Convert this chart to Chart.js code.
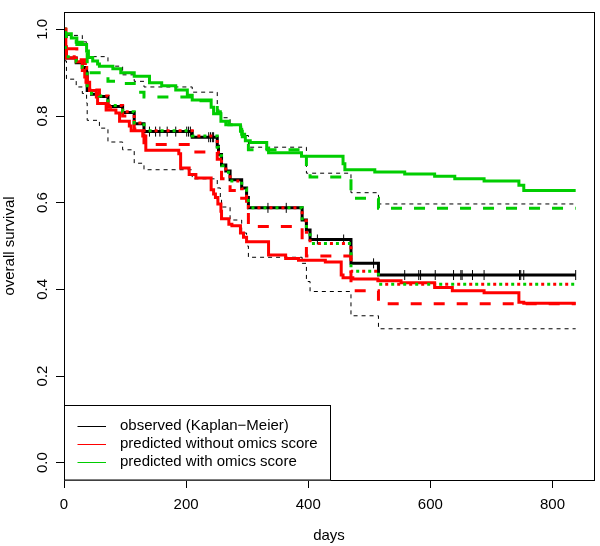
<!DOCTYPE html>
<html>
<head>
<meta charset="utf-8">
<script src="https://cdn.jsdelivr.net/npm/chart.js@4/dist/chart.umd.min.js"></script>
<style>
  body { margin: 0; background: #fff; }
  canvas { display: block; }
</style>
</head>
<body>
<canvas id="grafico_km" width="600" height="546"></canvas>
<script>
// tick labels
const xTicks = [0, 200, 400, 600, 800];
const yTicks = [0, 0.2, 0.4, 0.6, 0.8, 1.0];
const seriesNames = ['observed (Kaplan\u2212Meier)', 'predicted without omics score', 'predicted with omics score'];

// observed Kaplan-Meier (step values start at the given day)
const kmDays = [0, 2, 4, 20, 30, 37, 38, 45, 58, 72, 96, 115, 131, 210, 251, 253, 258, 265, 272, 291, 299, 302, 390, 397, 403, 470, 515, 838];
const kmSurv = [1.0, 0.945, 0.934, 0.923, 0.912, 0.900, 0.859, 0.850, 0.845, 0.822, 0.808, 0.782, 0.764, 0.751, 0.730, 0.711, 0.687, 0.673, 0.653, 0.634, 0.612, 0.588, 0.560, 0.537, 0.515, 0.460, 0.433, 0.433];

// censoring marks
const censorDays = [140, 150, 157, 169, 183, 201, 204, 207, 237, 240, 243, 245, 334, 364, 415, 458, 507, 558, 581, 584, 608, 638, 650, 652, 669, 688, 746, 748, 753, 838];
const censorSurv = [0.764, 0.764, 0.764, 0.764, 0.764, 0.764, 0.764, 0.764, 0.751, 0.751, 0.751, 0.751, 0.588, 0.588, 0.515, 0.515, 0.460, 0.433, 0.433, 0.433, 0.433, 0.433, 0.433, 0.433, 0.433, 0.433, 0.433, 0.433, 0.433, 0.433];

// confidence band
const upperDays = [0, 4, 30, 37, 72, 96, 115, 131, 210, 251, 258, 272, 291, 302, 397, 470, 515, 838];
const upperSurv = [1.0, 0.986, 0.971, 0.937, 0.915, 0.895, 0.880, 0.867, 0.855, 0.814, 0.796, 0.778, 0.755, 0.728, 0.668, 0.623, 0.597, 0.597];
const lowerDays = [0, 2, 4, 20, 30, 37, 38, 58, 72, 96, 115, 131, 210, 251, 256, 258, 272, 291, 299, 302, 390, 397, 403, 470, 515, 838];
const lowerSurv = [1.0, 0.927, 0.885, 0.867, 0.852, 0.830, 0.790, 0.772, 0.740, 0.722, 0.691, 0.676, 0.655, 0.634, 0.612, 0.590, 0.560, 0.530, 0.500, 0.474, 0.460, 0.418, 0.395, 0.339, 0.309, 0.309];

// predicted without omics score
const redDays = [0, 3, 4, 20, 30, 34, 36, 42, 53, 55, 69, 85, 91, 107, 110, 129, 134, 188, 191, 205, 216, 241, 245, 248, 252, 257, 258, 270, 275, 289, 294, 299, 335, 363, 384, 428, 454, 457, 473, 514, 552, 607, 636, 688, 745, 753, 838];
const redSurv = [1.0, 0.96, 0.934, 0.925, 0.905, 0.89, 0.878, 0.859, 0.844, 0.829, 0.814, 0.807, 0.788, 0.777, 0.766, 0.754, 0.721, 0.713, 0.680, 0.665, 0.657, 0.63, 0.62, 0.612, 0.597, 0.58, 0.563, 0.55, 0.547, 0.53, 0.52, 0.51, 0.479, 0.471, 0.467, 0.463, 0.433, 0.427, 0.424, 0.42, 0.415, 0.404, 0.397, 0.392, 0.37, 0.368, 0.368];
const redDashDays = [0, 3, 21, 35, 38, 58, 72, 96, 115, 131, 210, 251, 256, 258, 272, 291, 299, 302, 390, 397, 470, 515, 838];
const redDashSurv = [1.0, 0.955, 0.93, 0.90, 0.86, 0.845, 0.82, 0.80, 0.77, 0.734, 0.717, 0.70, 0.686, 0.655, 0.628, 0.61, 0.59, 0.545, 0.515, 0.477, 0.397, 0.367, 0.367];
const redDotDays = [0, 2, 4, 20, 30, 37, 38, 45, 58, 72, 96, 115, 131, 210, 251, 253, 258, 265, 272, 291, 299, 302, 390, 397, 403, 470, 515, 838];
const redDotSurv = [1.0, 0.948, 0.937, 0.925, 0.912, 0.902, 0.862, 0.852, 0.846, 0.824, 0.81, 0.784, 0.766, 0.754, 0.728, 0.708, 0.685, 0.67, 0.65, 0.632, 0.61, 0.588, 0.558, 0.532, 0.506, 0.442, 0.412, 0.412];

// predicted with omics score
const greenDays = [0, 2, 12, 21, 37, 40, 47, 55, 58, 80, 93, 115, 140, 160, 183, 202, 210, 241, 245, 257, 270, 289, 292, 297, 305, 332, 335, 389, 457, 460, 509, 558, 607, 640, 688, 745, 753, 838];
const greenSurv = [1.0, 0.99, 0.98, 0.965, 0.95, 0.935, 0.927, 0.92, 0.915, 0.909, 0.90, 0.892, 0.877, 0.870, 0.86, 0.848, 0.837, 0.82, 0.805, 0.788, 0.78, 0.765, 0.752, 0.743, 0.739, 0.725, 0.715, 0.707, 0.69, 0.676, 0.671, 0.666, 0.661, 0.655, 0.65, 0.64, 0.628, 0.628];
const greenDashDays = [0, 2, 4, 20, 30, 37, 38, 72, 96, 115, 131, 210, 251, 256, 265, 291, 299, 302, 397, 403, 470, 515, 838];
const greenDashSurv = [1.0, 0.988, 0.98, 0.97, 0.96, 0.95, 0.90, 0.88, 0.875, 0.855, 0.844, 0.835, 0.81, 0.79, 0.78, 0.758, 0.74, 0.722, 0.68, 0.659, 0.61, 0.587, 0.587];
const greenDotDays = [0, 2, 4, 20, 30, 37, 38, 45, 58, 72, 96, 115, 131, 210, 251, 253, 258, 265, 272, 291, 299, 302, 390, 397, 403, 470, 515, 838];
const greenDotSurv = [1.0, 0.948, 0.937, 0.925, 0.912, 0.902, 0.862, 0.852, 0.846, 0.824, 0.81, 0.784, 0.766, 0.754, 0.728, 0.708, 0.685, 0.67, 0.65, 0.632, 0.61, 0.588, 0.558, 0.532, 0.506, 0.442, 0.412, 0.412];

const FONT = "'Liberation Sans', Arial, Helvetica, sans-serif";
const RED = '#ff0000';
const GREEN = '#00cd00';
const seriesColors = ['#000000', RED, GREEN];

function pts(days, surv) {
  return days.map((d, i) => ({ x: d, y: surv[i] }));
}

function curve(days, surv, color, width, dash, dashOffset) {
  return {
    data: pts(days, surv),
    borderColor: color,
    borderWidth: width,
    borderDash: dash || [],
    borderDashOffset: dashOffset || 0,
    stepped: 'before',
    pointRadius: 0,
    fill: false
  };
}

// R style box, rotated y labels and legend
const rStyle = {
  id: 'rStyle',
  afterDraw(chart) {
    const { ctx, chartArea: a, scales } = chart;
    ctx.save();
    ctx.strokeStyle = '#000';
    ctx.lineWidth = 1;
    ctx.strokeRect(a.left + 0.5, a.top + 0.5, a.right - a.left, a.bottom - a.top);

    ctx.fillStyle = '#000';
    ctx.font = '15px ' + FONT;
    ctx.textAlign = 'center';
    ctx.textBaseline = 'alphabetic';
    yTicks.forEach(v => {
      const y = scales.y.getPixelForValue(v);
      ctx.save();
      ctx.translate(46.5, y);
      ctx.rotate(-Math.PI / 2);
      ctx.fillText(v.toFixed(1), 0, 0);
      ctx.restore();
    });

    // legend
    const top = 405.5, right = 330.5;
    ctx.fillStyle = '#fff';
    ctx.fillRect(a.left + 0.5, top, right - a.left - 0.5, a.bottom - top + 0.5);
    ctx.strokeStyle = '#000';
    ctx.strokeRect(a.left + 0.5, top, right - a.left - 0.5, a.bottom - top);
    ctx.textAlign = 'left';
    ctx.textBaseline = 'middle';
    seriesNames.forEach((name, i) => {
      const y = 425.5 + i * 18;
      ctx.strokeStyle = seriesColors[i];
      ctx.beginPath();
      ctx.moveTo(77.5, Math.round(y) + 0.5);
      ctx.lineTo(106, Math.round(y) + 0.5);
      ctx.stroke();
      ctx.fillStyle = '#000';
      ctx.fillText(name, 120, y + 0.5);
    });
    ctx.restore();
  }
};

const ctx = document.getElementById('grafico_km').getContext('2d');
const grafico = new Chart(ctx, {
  type: 'line',
  data: {
    datasets: [
      curve(greenDotDays, greenDotSurv, GREEN, 3, [3, 9], 6),
      curve(redDotDays, redDotSurv, RED, 3, [3, 9], 0),
      curve(greenDashDays, greenDashSurv, GREEN, 3, [11, 12]),
      curve(greenDays, greenSurv, GREEN, 3),
      curve(redDashDays, redDashSurv, RED, 3, [11, 12]),
      curve(redDays, redSurv, RED, 3),
      {
        data: pts(censorDays, censorSurv),
        showLine: false,
        pointStyle: 'line',
        pointRotation: 90,
        pointRadius: 5,
        pointBorderWidth: 1,
        pointBorderColor: '#000',
        pointBackgroundColor: '#000'
      },
      curve(kmDays, kmSurv, '#000', 3),
      curve(upperDays, upperSurv, '#000', 1, [4, 4]),
      curve(lowerDays, lowerSurv, '#000', 1, [4, 4])
    ]
  },
  options: {
    responsive: false,
    animation: false,
    devicePixelRatio: 1,
    events: [],
    layout: { padding: { top: 0, right: 3, bottom: 0, left: 0 } },
    plugins: {
      legend: { display: false },
      tooltip: { enabled: false }
    },
    scales: {
      x: {
        type: 'linear',
        min: 0,
        max: 868,
        afterBuildTicks: s => { s.ticks = xTicks.map(v => ({ value: v })); },
        afterFit: s => { s.height = 66; },
        border: { display: false },
        grid: { drawOnChartArea: false, tickLength: 8, color: '#000' },
        ticks: { padding: 8, color: '#000', font: { family: FONT, size: 15 }, maxRotation: 0, autoSkip: false },
        title: { display: true, text: 'days', color: '#000', font: { family: FONT, size: 15 }, padding: { top: 0, bottom: 1 } }
      },
      y: {
        type: 'linear',
        min: -0.04,
        max: 1.04,
        afterBuildTicks: s => { s.ticks = yTicks.map(v => ({ value: v })); },
        afterFit: s => { s.width = 64; },
        border: { display: false },
        grid: { drawOnChartArea: false, tickLength: 8, color: '#000' },
        ticks: { color: 'rgba(0,0,0,0)', font: { family: FONT, size: 15 } },
        title: { display: true, text: 'overall survival', color: '#000', font: { family: FONT, size: 15 }, padding: { top: 1, bottom: 0 } }
      }
    }
  },
  plugins: [rStyle]
});
</script>
</body>
</html>
